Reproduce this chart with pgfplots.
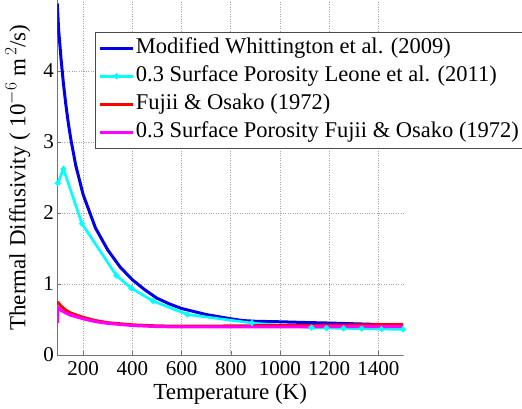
\documentclass[border=0pt]{standalone}
\usepackage{pgfplots}
\pgfplotsset{compat=1.18}
\usepackage{fontspec}
\setmainfont{Liberation Serif}
\definecolor{mblue}{RGB}{0,0,235}
\definecolor{mcyan}{RGB}{0,255,255}
\definecolor{mred}{RGB}{255,0,0}
\definecolor{mmag}{RGB}{255,0,255}
\begin{document}
\begin{tikzpicture}
\path[use as bounding box] (-57.3pt,-53pt) rectangle (464.7pt,355pt);
\begin{axis}[
  at={(0pt,0pt)}, anchor=south west,
  scale only axis, width=345.7pt, height=355pt,
  xmin=95, xmax=1500, ymin=0, ymax=5,
  xtick={200,400,...,1400}, ytick={0,1,2,3,4},
  axis x line*=bottom, axis y line*=left,
  axis line style={black!55, line width=0.8pt},
  tick align=inside, major tick length=4pt,
  tick style={black!55},
  grid=major, major grid style={dotted, black!35, line width=0.7pt},
  /pgf/number format/assume math mode=true,
  /pgf/number format/1000 sep={},
  ticklabel style={font=\fontsize{21}{24}\selectfont},
  xticklabel style={yshift=-3pt},
  label style={font=\fontsize{23}{26}\selectfont},
  xlabel={Temperature (K)},
  ylabel={Thermal Diffusivity ( 10$^{-6}$ m$^{\,2}$/s)},
  xlabel style={yshift=-1pt},
  ylabel style={yshift=6pt},
  legend cell align=left,
  legend image code/.code={\draw[mark repeat=2,mark phase=2,#1] plot coordinates {(0pt,0pt) (16.5pt,0pt) (33pt,0pt)};},
  legend style={at={(rel axis cs:0.109,0.91)}, anchor=north west,
    draw=black!70, line width=0.8pt, fill=white, inner xsep=3pt, inner ysep=4pt,
    row sep=4pt,
    font=\fontsize{22.5}{25}\selectfont,
    nodes={inner sep=1.5pt, text height=16pt, text depth=5pt}},
  clip=true,
]
\addplot[mblue, line width=3pt] coordinates {
(95,4.95) (100,4.60) (110,4.18) (120,3.82) (130,3.52) (140,3.26) (150,3.04)
(170,2.67) (200,2.26) (250,1.79) (300,1.48) (350,1.24) (400,1.06) (450,0.92)
(500,0.80) (550,0.72) (600,0.655) (700,0.57) (800,0.51) (850,0.485) (900,0.475)
(1000,0.468) (1100,0.458) (1200,0.45) (1300,0.44) (1400,0.43) (1500,0.42)};
\addlegendentry{Modified Whittington et al. (2009)}
\addplot[mcyan, line width=2.6pt, mark=*, mark size=1.4pt] coordinates {
(97,2.42) (120,2.62) (195,1.85) (335,1.12) (396,0.94) (484,0.76) (624,0.57)
(886,0.45) (1128,0.385) (1189,0.38) (1258,0.375) (1332,0.372) (1413,0.365) (1500,0.36)};
\addlegendentry{0.3 Surface Porosity Leone et al. (2011)}
\addplot[mred, line width=3pt] coordinates {
(95,0.75) (110,0.69) (130,0.63) (150,0.59) (200,0.53) (250,0.485) (300,0.455)
(400,0.425) (500,0.41) (600,0.405) (700,0.405) (800,0.41) (1000,0.415) (1200,0.42) (1500,0.43)};
\addlegendentry{Fujii \& Osako (1972)}
\addplot[mmag, line width=3pt] coordinates {
(95,0.45) (97,0.67) (110,0.63) (130,0.59) (150,0.56) (200,0.51) (250,0.47) (300,0.445)
(400,0.415) (500,0.40) (600,0.395) (800,0.395) (1000,0.395) (1200,0.40) (1500,0.40)};
\addlegendentry{0.3 Surface Porosity Fujii \& Osako (1972)}
\end{axis}
\end{tikzpicture}
\end{document}
